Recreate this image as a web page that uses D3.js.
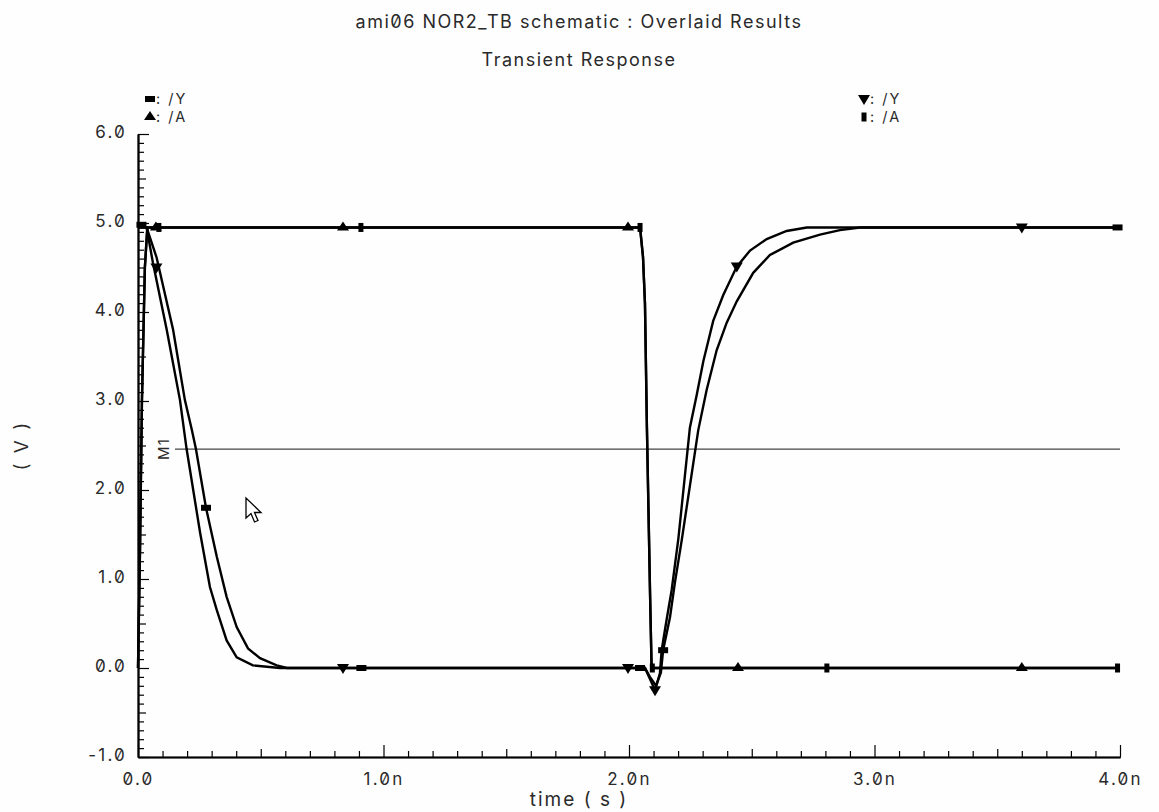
<!DOCTYPE html>
<html>
<head>
<meta charset="utf-8">
<script src="https://cdn.jsdelivr.net/npm/d3@7"></script>
<style>
  html, body { margin: 0; padding: 0; background: #fefefe; }
  svg text { font-family: Inter, "Liberation Sans", sans-serif; font-feature-settings: "zero" 1; fill: #2a2a2a; }
</style>
</head>
<body>
<svg id="chart" width="1159" height="812"></svg>
<script>
// ---------------- data (time in ns, voltage in V) ----------------
const titleText = "ami06 NOR2_TB schematic : Overlaid Results";
const subtitleText = "Transient Response";
const xLabel = "time ( s )";
const yLabel = "( V )";

const xTickValues = [0, 1, 2, 3, 4];
const xTickLabels = ["0.0", "1.0n", "2.0n", "3.0n", "4.0n"];
const yTickValues = [-1, 0, 1, 2, 3, 4, 5, 6];
const yTickLabels = ["-1.0", "0.0", "1.0", "2.0", "3.0", "4.0", "5.0", "6.0"];

const markerLevel = 2.46;   // M1 horizontal marker
const markerName = "M1";

// run 1 /A (triangle up markers)
const a1Data = [[0,0],[0.008,1.3],[0.016,3.0],[0.028,4.5],[0.038,4.95],[2.045,4.95],[2.057,4.62],[2.065,4.1],[2.073,2.7],[2.086,0.8],[2.092,0],[4.0,0]];
// run 2 /A (small square markers)
const a2Data = [[0,0],[0.008,1.3],[0.016,3.0],[0.028,4.5],[0.038,4.95],[2.045,4.95],[2.057,4.62],[2.065,4.1],[2.073,2.7],[2.086,0.8],[2.092,0],[4.0,0]];
// run 1 /Y (bar markers) - slower edges
const y1Data = [[0,4.95],[0.035,4.95],[0.076,4.61],[0.143,3.80],[0.191,3.01],[0.219,2.68],[0.236,2.46],[0.277,1.80],[0.321,1.25],[0.361,0.80],[0.402,0.46],[0.448,0.22],[0.497,0.11],[0.565,0.03],[0.606,0.0],[2.065,0],[2.085,-0.1],[2.11,-0.2],[2.13,-0.05],[2.139,0.2],[2.167,0.57],[2.187,0.96],[2.215,1.44],[2.282,2.67],[2.316,3.12],[2.357,3.57],[2.398,3.88],[2.439,4.12],[2.506,4.44],[2.574,4.64],[2.669,4.78],[2.778,4.87],[2.859,4.92],[2.941,4.95],[4.0,4.95]];
// run 2 /Y (triangle down markers) - faster edges
const y2Data = [[0,4.95],[0.035,4.95],[0.061,4.55],[0.117,3.80],[0.171,3.01],[0.198,2.46],[0.253,1.52],[0.293,0.91],[0.321,0.65],[0.361,0.31],[0.402,0.12],[0.468,0.03],[0.578,0.0],[2.065,0],[2.085,-0.12],[2.106,-0.25],[2.126,-0.06],[2.133,0.2],[2.153,0.54],[2.174,0.88],[2.201,1.45],[2.248,2.70],[2.276,3.07],[2.303,3.45],[2.343,3.90],[2.384,4.19],[2.439,4.51],[2.493,4.69],[2.561,4.82],[2.642,4.91],[2.724,4.95],[4.0,4.95]];

// marker positions along each trace [t, v]
const a1Markers = [[0.073,4.95],[0.835,4.95],[1.996,4.95],[2.444,0],[3.60,0]];
const a2Markers = [[0.085,4.95],[0.908,4.95],[2.045,4.95],[2.095,0],[2.806,0],[3.99,0]];
const y1Markers = [[0.014,4.98],[0.277,1.80],[0.91,0],[2.045,0],[2.139,0.2],[3.99,4.95]];
const y2Markers = [[0.075,4.5],[0.835,0],[1.996,0],[2.106,-0.25],[2.439,4.51],[3.60,4.95]];

const legendLeft = [{shape:"bar", label:": /Y"}, {shape:"up", label:": /A"}];
const legendRight = [{shape:"down", label:": /Y"}, {shape:"sq", label:": /A"}];

// ---------------- drawing ----------------
const svg = d3.select("#chart");
const x = d3.scaleLinear().domain([0, 4]).range([138, 1120]);
const y = d3.scaleLinear().domain([-1, 6]).range([757, 134]);

svg.append("rect").attr("width",1159).attr("height",812).attr("fill","#fefefe");

// titles
svg.append("text").attr("x", 579).attr("y", 28).attr("text-anchor","middle")
  .style("font-size","18px").style("letter-spacing","1.5px").text(titleText);
svg.append("text").attr("x", 579).attr("y", 66).attr("text-anchor","middle")
  .style("font-size","18px").style("letter-spacing","1.5px").text(subtitleText);

// axes - minor ticks
const minorX = d3.range(0, 40.5, 1).map(d => d / 10);
const minorY = d3.range(-10, 60.5, 1).map(d => d / 10);

svg.append("g").attr("transform", `translate(0,${y(-1)})`)
  .call(d3.axisBottom(x).tickValues(minorX.filter(d => Math.abs(d*2 - Math.round(d*2)) > 1e-6)).tickSize(-6).tickSizeOuter(0).tickFormat(""));
svg.append("g").attr("transform", `translate(0,${y(-1)})`)
  .call(d3.axisBottom(x).tickValues([0.5,1.5,2.5,3.5]).tickSize(-8).tickSizeOuter(0).tickFormat(""));
const gx = svg.append("g").attr("transform", `translate(0,${y(-1)})`)
  .call(d3.axisBottom(x).tickValues(xTickValues).tickSize(-12).tickSizeOuter(0).tickPadding(16)
    .tickFormat((d,i) => xTickLabels[i]));

svg.append("g").attr("transform", `translate(${x(0)},0)`)
  .call(d3.axisLeft(y).tickValues(minorY.filter(d => Math.abs(d*2 - Math.round(d*2)) > 1e-6)).tickSize(-6).tickSizeOuter(0).tickFormat(""));
svg.append("g").attr("transform", `translate(${x(0)},0)`)
  .call(d3.axisLeft(y).tickValues([-0.5,0.5,1.5,2.5,3.5,4.5,5.5]).tickSize(-8).tickSizeOuter(0).tickFormat(""));
const gy = svg.append("g").attr("transform", `translate(${x(0)},0)`)
  .call(d3.axisLeft(y).tickValues(yTickValues).tickSize(-11).tickSizeOuter(0).tickPadding(10)
    .tickFormat((d,i) => yTickLabels[i]));

svg.selectAll(".domain").attr("stroke","#000").attr("stroke-width",1.6);
svg.selectAll(".tick line").attr("stroke","#000").attr("stroke-width",1.2);
svg.selectAll(".tick text").style("font-size","17px").style("letter-spacing","2.2px").attr("fill","#2a2a2a");
gy.selectAll(".tick text").attr("dx","-1px").attr("dy","0.2em");

// axis labels
svg.append("text").attr("x", 579).attr("y", 806).attr("text-anchor","middle")
  .style("font-size","19px").style("letter-spacing","2px").text(xLabel);
svg.append("text").attr("transform", `translate(28,${y(2.5)}) rotate(-90)`).attr("text-anchor","middle")
  .style("font-size","19px").style("letter-spacing","2.5px").text(yLabel);

// M1 marker line
svg.append("line").attr("x1", 175).attr("x2", x(4)).attr("y1", y(markerLevel)).attr("y2", y(markerLevel))
  .attr("stroke","#444").attr("stroke-width",1.2);
svg.append("text").attr("transform", `translate(169,${y(markerLevel)}) rotate(-90)`).attr("text-anchor","middle")
  .style("font-size","15px").style("letter-spacing","1px").text(markerName);

// traces
const line = d3.line().x(d => x(d[0])).y(d => y(d[1]));
[a1Data, a2Data, y1Data, y2Data].forEach(data => {
  svg.append("path").datum(data).attr("d", line).attr("fill","none")
    .attr("stroke","#000").attr("stroke-width",2.4).attr("stroke-linejoin","miter");
});

// marker shapes
function drawMarker(g, shape, cx, cy) {
  if (shape === "bar") {
    g.append("rect").attr("x", cx-5).attr("y", cy-3).attr("width",10).attr("height",6).attr("fill","#000");
  } else if (shape === "sq") {
    g.append("rect").attr("x", cx-2.5).attr("y", cy-4.5).attr("width",5).attr("height",9).attr("fill","#000");
  } else if (shape === "up") {
    g.append("path").attr("d", `M${cx-6},${cy+3}L${cx},${cy-6}L${cx+6},${cy+3}Z`).attr("fill","#000");
  } else if (shape === "down") {
    g.append("path").attr("d", `M${cx-6},${cy-4}L${cx+6},${cy-4}L${cx},${cy+6}Z`).attr("fill","#000");
  }
}
const mg = svg.append("g");
a1Markers.forEach(d => drawMarker(mg, "up", x(d[0]), y(d[1])));
a2Markers.forEach(d => drawMarker(mg, "sq", x(d[0]), y(d[1])));
y1Markers.forEach(d => drawMarker(mg, "bar", x(d[0]), y(d[1])));
y2Markers.forEach(d => drawMarker(mg, "down", x(d[0]), y(d[1])));

// legends
function drawLegend(items, lx, ly) {
  items.forEach((it, i) => {
    const cy = ly + i * 18;
    drawMarker(svg, it.shape, lx, cy);
    svg.append("text").attr("x", lx + 6).attr("y", cy + 5).style("font-size","14.5px").style("letter-spacing","2px").text(it.label);
  });
}
drawLegend(legendLeft, 150, 99);
drawLegend(legendRight, 864, 99);

// mouse cursor
svg.append("path").attr("transform","translate(246,498)")
  .attr("d","M0,0 L0,20 L5,15.5 L8.5,24 L12,22.5 L8.5,14.5 L15,14.5 Z")
  .attr("fill","#fff").attr("stroke","#000").attr("stroke-width",1.3).attr("stroke-linejoin","miter");
</script>
</body>
</html>
